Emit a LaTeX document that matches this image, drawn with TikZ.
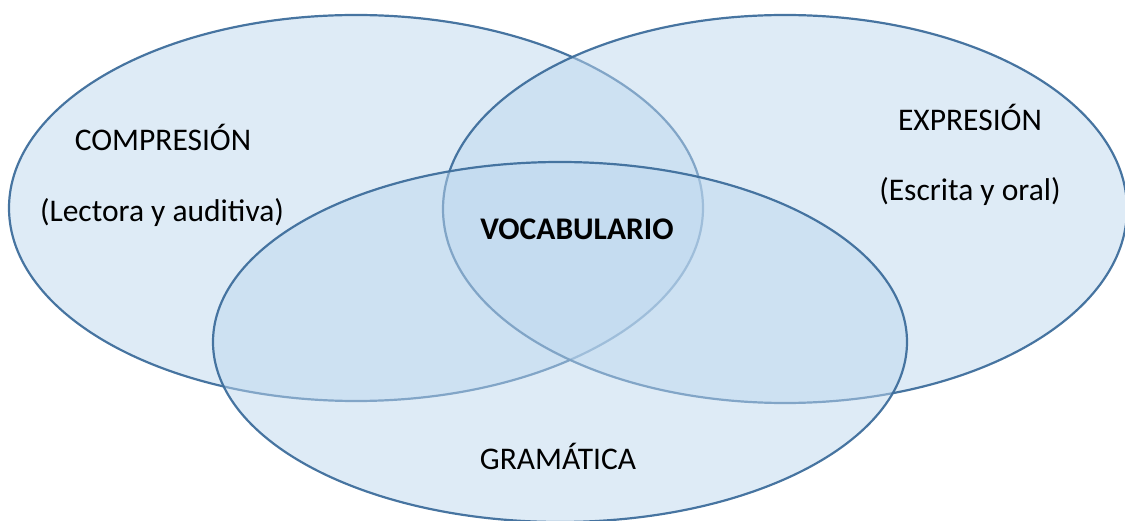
\documentclass[tikz,border=0pt]{standalone}
\usepackage{fontspec}
\setmainfont{Carlito}
\definecolor{efill}{HTML}{BDD7EE}
\definecolor{eline}{HTML}{3E6E9C}
\begin{document}
\begin{tikzpicture}[x=1pt,y=-1pt,
  venn/.style={draw=eline,line width=2.2pt,fill=efill,fill opacity=0.5,draw opacity=0.95},
  lbl/.style={font=\fontsize{31.5}{36}\selectfont,text=black,inner sep=0pt}]
\useasboundingbox (0,0) rectangle (1125,521);
\clip (0,0) rectangle (1125,521);
\path[venn] (356,208) ellipse [x radius=347pt, y radius=193pt];
\path[venn] (785,209) ellipse [x radius=342pt, y radius=194pt];
\path[venn] (560,342) ellipse [x radius=347pt, y radius=180pt];
\node[lbl] (comp) at (163,137) {COMPRESIÓN};
\node[lbl] (lect) at (162,213) {(Lectora y auditiva)};
\node[lbl] (expr) at (970,117) {EXPRESIÓN};
\node[lbl] (escr) at (970,192) {(Escrita y oral)};
\node[lbl,font=\fontsize{31.5}{36}\selectfont\bfseries] (voc) at (577,229) {VOCABULARIO};
\node[lbl] (gram) at (558,456) {GRAMÁTICA};
\end{tikzpicture}
\end{document}
